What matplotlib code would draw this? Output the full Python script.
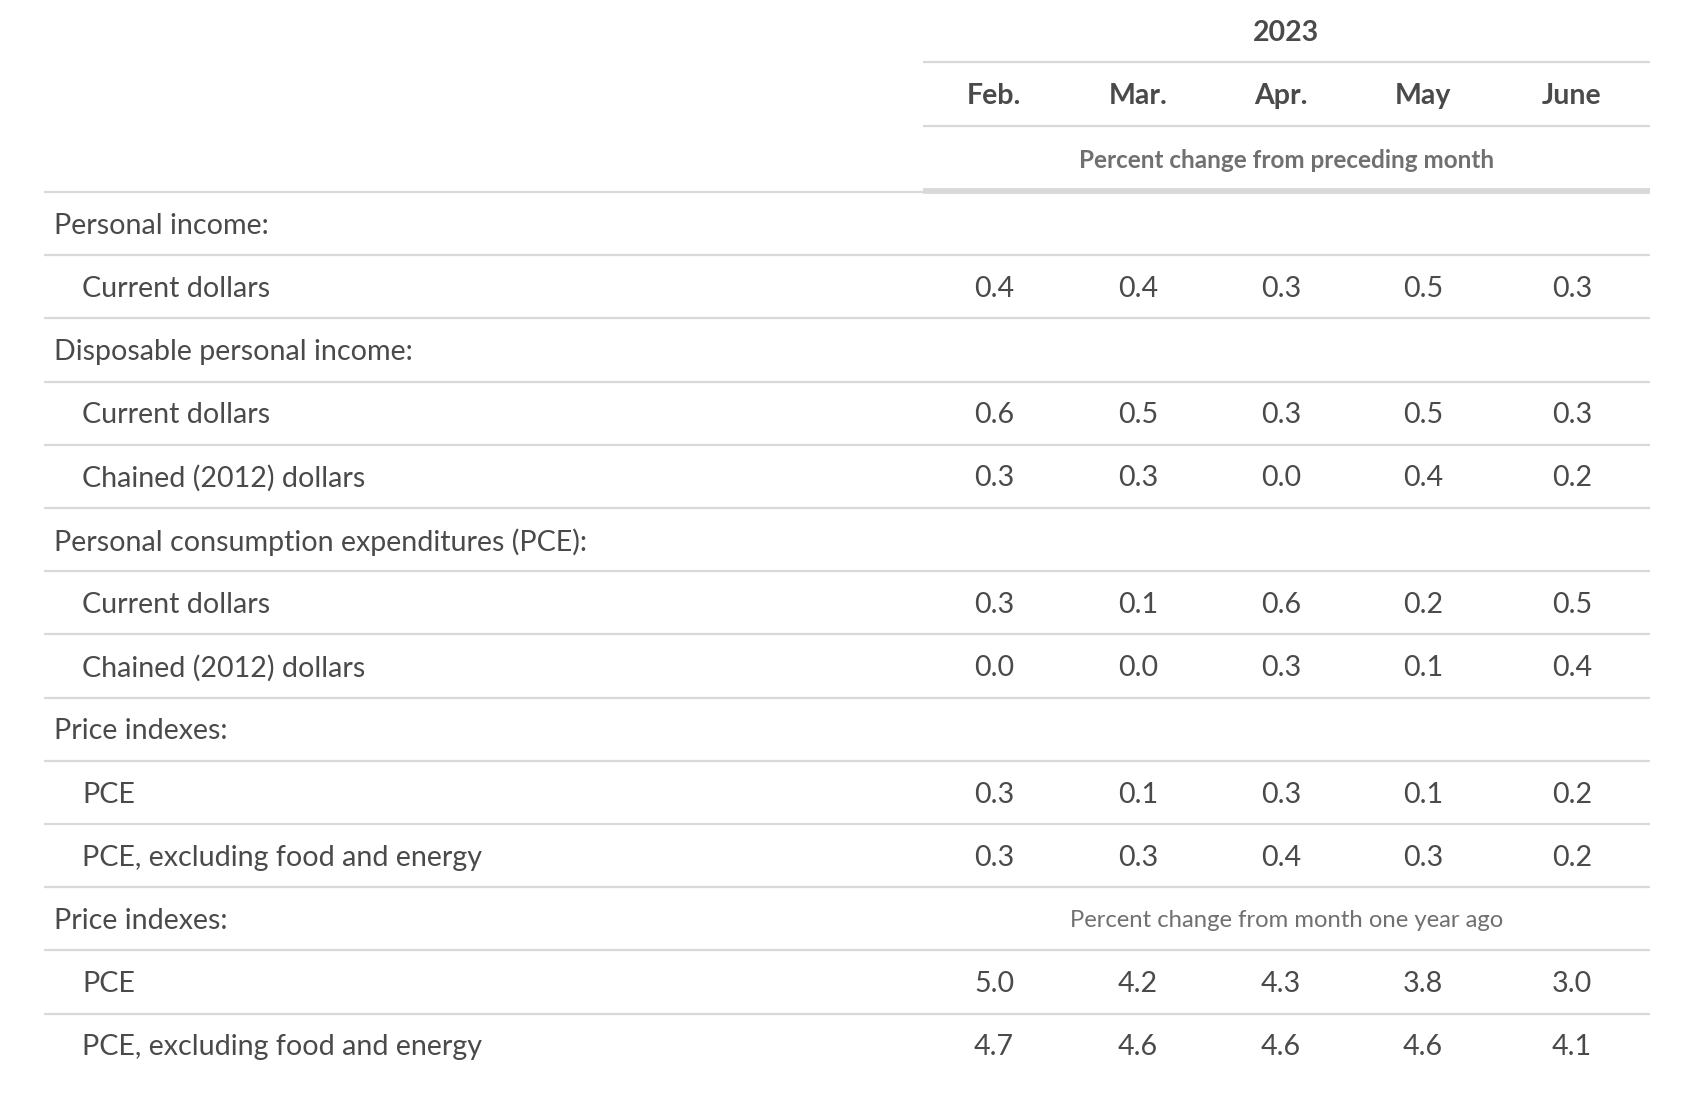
import matplotlib
matplotlib.use("Agg")
import matplotlib.pyplot as plt

plt.rcParams['font.family'] = ['Lato', 'DejaVu Sans']

year_label = "2023"
months = ["Feb.", "Mar.", "Apr.", "May", "June"]
sub_header_1 = "Percent change from preceding month"
sub_header_2 = "Percent change from month one year ago"

row_labels = [
    "Personal income:",
    "Current dollars",
    "Disposable personal income:",
    "Current dollars",
    "Chained (2012) dollars",
    "Personal consumption expenditures (PCE):",
    "Current dollars",
    "Chained (2012) dollars",
    "Price indexes:",
    "PCE",
    "PCE, excluding food and energy",
    "Price indexes:",
    "PCE",
    "PCE, excluding food and energy",
]
row_indent = [0, 1, 0, 1, 1, 0, 1, 1, 0, 1, 1, 0, 1, 1]

pi_current = [0.4, 0.4, 0.3, 0.5, 0.3]
dpi_current = [0.6, 0.5, 0.3, 0.5, 0.3]
dpi_chained = [0.3, 0.3, 0.0, 0.4, 0.2]
pce_current = [0.3, 0.1, 0.6, 0.2, 0.5]
pce_chained = [0.0, 0.0, 0.3, 0.1, 0.4]
price_pce_m = [0.3, 0.1, 0.3, 0.1, 0.2]
price_core_m = [0.3, 0.3, 0.4, 0.3, 0.2]
price_pce_y = [5.0, 4.2, 4.3, 3.8, 3.0]
price_core_y = [4.7, 4.6, 4.6, 4.6, 4.1]

row_values = [None, pi_current, None, dpi_current, dpi_chained, None,
              pce_current, pce_chained, None, price_pce_m, price_core_m,
              None, price_pce_y, price_core_y]

W, H = 1688, 1112
fig = plt.figure(figsize=(W / 100, H / 100), dpi=100)
ax = fig.add_axes([0, 0, 1, 1])
ax.set_xlim(0, W)
ax.set_ylim(H, 0)
ax.axis('off')

TEXT = '#4a4a4a'
GRAY = '#707070'
LINE = '#d9d9d9'

left_x = 44
right_x = 1650
head_x = 923
col_x = [994, 1138, 1281, 1423, 1572]
head_center = (head_x + right_x) / 2

# header
ax.text(head_center, 33, year_label, ha='center', va='center', fontsize=20.5,
        fontweight='bold', color=TEXT)
ax.plot([head_x, right_x], [62, 62], color=LINE, lw=1.6, solid_capstyle='butt')
for x, m in zip(col_x, months):
    ax.text(x, 96, m, ha='center', va='center', fontsize=20.5, fontweight='bold', color=TEXT)
ax.plot([head_x, right_x], [126, 126], color=LINE, lw=1.6, solid_capstyle='butt')
ax.text(head_center, 160, sub_header_1, ha='center', va='center', fontsize=17.5,
        fontweight='bold', color=GRAY)
ax.plot([left_x, head_x], [192, 192], color=LINE, lw=1.6, solid_capstyle='butt')
ax.plot([head_x, right_x], [191, 191], color=LINE, lw=4.2, solid_capstyle='butt')

# rows
row0 = 223.5
pitch = 63.2
text_dy = 2.2
for i, (lab, ind, vals) in enumerate(zip(row_labels, row_indent, row_values)):
    y = row0 + i * pitch
    ty = y + text_dy
    x = left_x + 10 + ind * 28
    ax.text(x, ty, lab, ha='left', va='center', fontsize=20.6, color=TEXT)
    if vals is not None:
        for cx, v in zip(col_x, vals):
            ax.text(cx, ty, f"{v:.1f}", ha='center', va='center', fontsize=20.6, color=TEXT)
    if i == 11:
        ax.text(head_center, ty, sub_header_2, ha='center', va='center', fontsize=17.2,
                color=GRAY)
    if i < len(row_labels) - 1:
        ly = y + pitch / 2
        ax.plot([left_x, right_x], [ly, ly], color=LINE, lw=1.6, solid_capstyle='butt')

fig.savefig("out.png", dpi=100, facecolor='white')
